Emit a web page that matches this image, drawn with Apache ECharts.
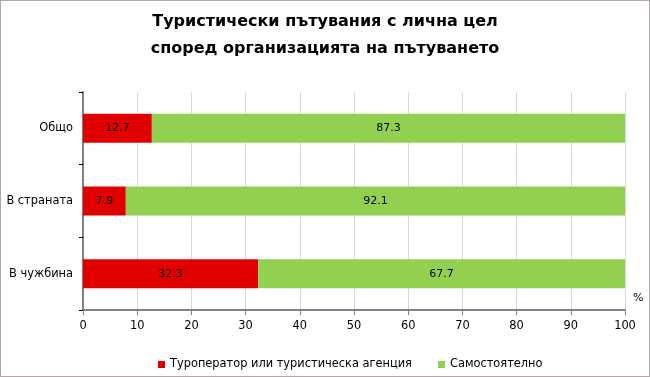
<!DOCTYPE html>
<html><head><meta charset="utf-8">
<script src="https://cdn.jsdelivr.net/npm/echarts@6/dist/echarts.min.js"></script>
<style>html,body{margin:0;padding:0;background:#fff}#c{width:650px;height:377px;box-sizing:border-box;border:1px solid #b0a8a8}</style>
</head><body><div id="c"></div>
<script>
const categories = ['Общо', 'В страната', 'В чужбина'];
const seriesNames = ['Туроператор или туристическа агенция', 'Самостоятелно'];
const agencyValues = [12.7, 7.9, 32.3];
const selfValues = [87.3, 92.1, 67.7];
const titleLines = ['Туристически пътувания с лична цел', 'според организацията на пътуването'];

const chart = echarts.init(document.getElementById('c'));
const lbl = {show:true, position:'inside', color:'#000', fontFamily:'DejaVu Sans', fontSize:11};
chart.setOption({
  animation:false,
  textStyle:{fontFamily:'DejaVu Sans'},
  title:{text:titleLines.join('\n'), left:'center', top:2,
    textStyle:{fontFamily:'DejaVu Sans', fontWeight:'bold', fontSize:16, lineHeight:27, color:'#000'}},
  legend:{bottom:1, left:152, itemWidth:7, itemHeight:7, itemGap:26, icon:'rect',
    textStyle:{fontFamily:'DejaVu Sans', fontSize:11.4, color:'#000'}},
  grid:{left:82, right:24, top:91, bottom:66},
  xAxis:{type:'value', min:0, max:100, interval:10,
    name:'%', nameLocation:'end', nameGap:8,
    nameTextStyle:{color:'#000', fontSize:11, verticalAlign:'bottom', padding:[0,0,6,0]},
    axisLine:{show:true, lineStyle:{color:'#808080', width:2}},
    axisTick:{show:true, length:5, lineStyle:{color:'#808080'}},
    axisLabel:{color:'#000', fontSize:11.4, margin:11},
    splitLine:{show:true, lineStyle:{color:'#d9d9d9', width:1}}},
  yAxis:{type:'category', data:categories, inverse:true,
    axisLine:{show:true, lineStyle:{color:'#808080', width:2}},
    axisTick:{show:true, length:4, lineStyle:{color:'#000'}},
    axisLabel:{color:'#000', fontSize:11.4, margin:10}},
  series:[
    {name:seriesNames[0], type:'bar', stack:'s', data:agencyValues, barWidth:'40%',
     itemStyle:{color:'#e00000'}, label:lbl},
    {name:seriesNames[1], type:'bar', stack:'s', data:selfValues, barWidth:'40%',
     itemStyle:{color:'#92d050'}, label:lbl}
  ]
});
</script></body></html>
